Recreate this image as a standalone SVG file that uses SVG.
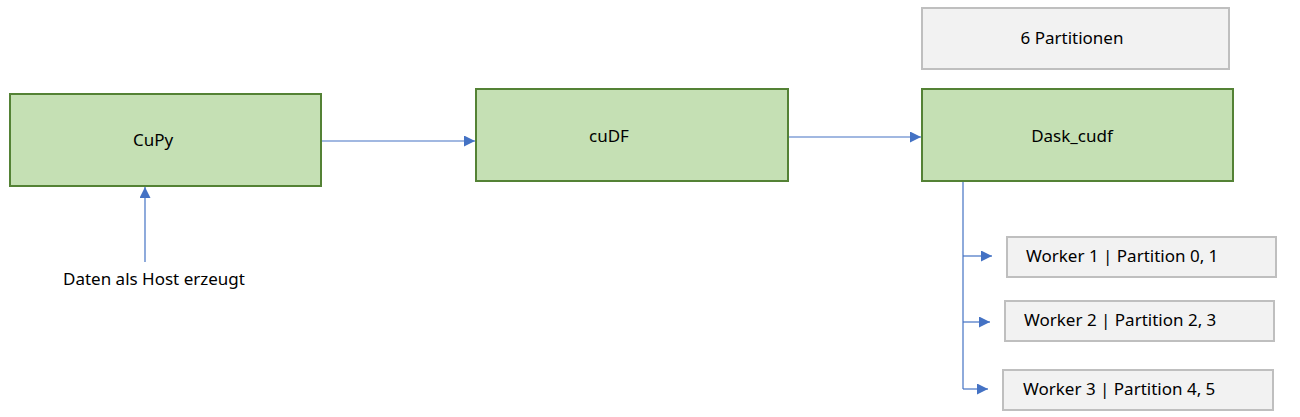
<svg xmlns="http://www.w3.org/2000/svg" width="1300" height="417" viewBox="0 0 1300 417">
<style>
.g{fill:#c5e0b4;stroke:#548235;stroke-width:2}
.w{fill:#f2f2f2;stroke:#bfbfbf;stroke-width:2}
text{font-family:"Noto Sans","Open Sans","Liberation Sans",sans-serif;font-size:17px;fill:#000}
.c{stroke:#4472c4;stroke-width:1.2;fill:none}
</style>
<defs>
<marker id="a" markerWidth="11" markerHeight="11" refX="11" refY="5.5" orient="auto" markerUnits="userSpaceOnUse" viewBox="0 0 11 11">
<path d="M0,0 L11,5.5 L0,11 Z" fill="#4472c4"/>
</marker>
</defs>
<rect width="1300" height="417" fill="#fff"/>
<g id="connectors">
<line class="c" x1="145" y1="262" x2="145" y2="187" marker-end="url(#a)"/>
<line class="c" x1="321" y1="141" x2="475" y2="141" marker-end="url(#a)"/>
<line class="c" x1="788" y1="137" x2="921" y2="137" marker-end="url(#a)"/>
<polyline class="c" points="936,180 963,180 963,389"/>
<line class="c" x1="963" y1="256" x2="992" y2="256" marker-end="url(#a)"/>
<line class="c" x1="963" y1="322" x2="990" y2="322" marker-end="url(#a)"/>
<line class="c" x1="963" y1="389" x2="988" y2="389" marker-end="url(#a)"/>
</g>
<g id="cupy">
<rect class="g" x="10" y="94" width="311" height="92"/>
<text x="153" y="146" text-anchor="middle">CuPy</text>
</g>
<g id="source">
<text x="154" y="285" text-anchor="middle">Daten als Host erzeugt</text>
</g>
<g id="cudf">
<rect class="g" x="476" y="89" width="312" height="92"/>
<text x="609" y="142" text-anchor="middle">cuDF</text>
</g>
<g id="dask">
<rect class="g" x="922" y="89" width="311" height="92"/>
<text x="1072" y="142" text-anchor="middle">Dask_cudf</text>
</g>
<g id="partitions">
<rect class="w" x="922" y="8" width="307" height="61"/>
<text x="1072" y="44" text-anchor="middle">6 Partitionen</text>
</g>
<g id="worker1">
<rect class="w" x="1007" y="237" width="269" height="40"/>
<text x="1026" y="262">Worker 1 | Partition 0, 1</text>
</g>
<g id="worker2">
<rect class="w" x="1005" y="301" width="269" height="40"/>
<text x="1024" y="326">Worker 2 | Partition 2, 3</text>
</g>
<g id="worker3">
<rect class="w" x="1003" y="370" width="270" height="40"/>
<text x="1023" y="395">Worker 3 | Partition 4, 5</text>
</g>
</svg>
